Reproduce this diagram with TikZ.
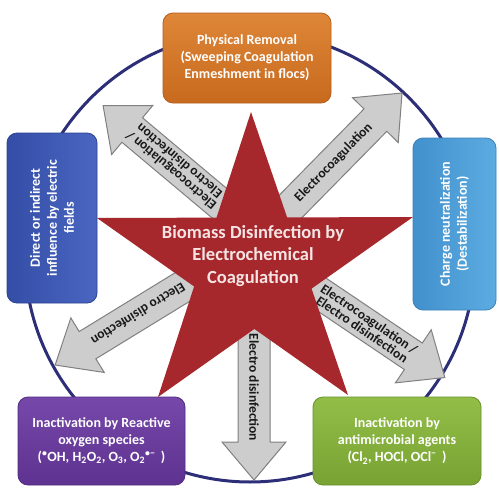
\documentclass[tikz,border=0pt]{standalone}
\usepackage{fontspec}
\setmainfont{Carlito}
\usetikzlibrary{calc}

\definecolor{ringblue}{RGB}{44,46,120}
\definecolor{starred}{RGB}{166,40,44}
\definecolor{startxt}{RGB}{246,228,228}
\definecolor{arrowfill}{RGB}{205,205,205}
\definecolor{arrowline}{RGB}{128,128,128}
\definecolor{orangeT}{RGB}{222,134,56}
\definecolor{orangeB}{RGB}{200,106,30}
\definecolor{orangeD}{RGB}{180,96,32}
\definecolor{blueT}{RGB}{74,102,194}
\definecolor{blueB}{RGB}{52,78,166}
\definecolor{blueD}{RGB}{44,66,146}
\definecolor{skyT}{RGB}{92,172,226}
\definecolor{skyB}{RGB}{66,144,204}
\definecolor{skyD}{RGB}{58,128,186}
\definecolor{purpleT}{RGB}{118,72,170}
\definecolor{purpleB}{RGB}{94,50,144}
\definecolor{purpleD}{RGB}{82,42,128}
\definecolor{greenT}{RGB}{146,190,72}
\definecolor{greenB}{RGB}{120,162,50}
\definecolor{greenD}{RGB}{104,144,42}

\tikzset{
  ring/.style={draw=ringblue, line width=3pt, circle, minimum size=450pt, inner sep=0pt},
  stararea/.style={fill=starred},
  startext/.style={text=startxt, align=center, font=\fontsize{18.5}{22.5}\selectfont\bfseries},
  arrowbody/.style={fill=arrowfill, draw=arrowline, line width=1pt, line join=miter},
  arrowtext/.style={text=black!90, align=center, inner sep=0pt, font=\fontsize{13.5}{12.5}\selectfont\bfseries},
  box/.style={rounded corners=10pt, line width=0.8pt, text=white, align=center,
    inner sep=2pt, font=\fontsize{14}{17}\selectfont\bfseries},
}

% shaft half width, head half width, head length
\newcommand\shw{16}
\newcommand\hw{32}
\newcommand\hl{38}

% block arrow: #1 name, #2 start point, #3 direction, #4 length, #5 label
\newcommand\blockarrow[5]{%
  \begin{scope}[shift={#2}, rotate=#3]
    \draw[arrowbody] (-22,-\shw) -- ({#4-\hl},-\shw) -- ({#4-\hl},-\hw) -- (#4,0)
      -- ({#4-\hl},\hw) -- ({#4-\hl},\shw) -- (-22,\shw) -- cycle;
    \coordinate (#1-tip) at (#4,0);
    \node[arrowtext, rotate=#3] (#1) at ({(#4-\hl)/2},0) {#5};
  \end{scope}}

\begin{document}
\begin{tikzpicture}[x=1pt, y=-1pt]
  \useasboundingbox (0,0) rectangle (499,488);
  \fill[white] (0,0) rectangle (499,488);

  % outer ring
  \node[ring] (ring) at (250,257) {};

  % arrows radiating from the star
  \blockarrow{aUL}{(218,202)}{140}{150}{Electrocoagulation /\\Electro disinfection}
  \blockarrow{aUR}{(292,205)}{45.5}{157}{Electrocoagulation}
  \blockarrow{aLL}{(189,283)}{211.5}{157}{Electro disinfection}
  \blockarrow{aLR}{(318,292)}{-34}{153}{Electrocoagulation /\\Electro disinfection}
  \blockarrow{aD}{(254,333)}{-90}{147}{Electro disinfection}

  % five-pointed star
  \coordinate (sT) at (251,112);
  \coordinate (sL) at (97,218);
  \coordinate (sR) at (413,217);
  \coordinate (sBL) at (158,397);
  \coordinate (sBR) at (348,395);
  \coordinate (iUR) at (intersection of sT--sBR and sL--sR);
  \coordinate (iLR) at (intersection of sR--sBL and sT--sBR);
  \coordinate (iB)  at (intersection of sBR--sL and sBL--sR);
  \coordinate (iLL) at (intersection of sBL--sT and sL--sBR);
  \coordinate (iUL) at (intersection of sL--sR and sT--sBL);
  \fill[stararea] (sT) -- (iUR) -- (sR) -- (iLR) -- (sBR) -- (iB) -- (sBL)
    -- (iLL) -- (sL) -- (iUL) -- cycle;
  \node[startext] (title) at (253,256)
    {Biomass Disinfection by\\Electrochemical\\Coagulation};

  % outcome boxes
  \node[box, draw=orangeD, top color=orangeT, bottom color=orangeB,
    minimum width=168pt, minimum height=90pt] (phys) at (247,58)
    {Physical Removal\\(Sweeping Coagulation\\Enmeshment in flocs)};
  \node[box, draw=blueD, right color=blueT, left color=blueB, rotate=90,
    minimum width=170pt, minimum height=90pt] (direct) at (52,218)
    {Direct or indirect\\influence by electric\\fields};
  \node[box, draw=skyD, right color=skyT, left color=skyB, rotate=90,
    minimum width=172pt, minimum height=83pt] (charge) at (454.5,224)
    {Charge neutralization\\(Destabilization)};
  \node[box, draw=purpleD, top color=purpleT, bottom color=purpleB,
    minimum width=167pt, minimum height=88pt] (ros) at (101.5,441)
    {Inactivation by Reactive\\oxygen species\\(\textsuperscript{•}OH, H\textsubscript{2}O\textsubscript{2}, O\textsubscript{3}, O\textsubscript{2}\textsuperscript{•−}\, )};
  \node[box, draw=greenD, top color=greenT, bottom color=greenB,
    minimum width=168pt, minimum height=88pt] (anti) at (397,441)
    {Inactivation by\\antimicrobial agents\\(Cl\textsubscript{2}, HOCl, OCl\textsuperscript{−}\, )};
\end{tikzpicture}
\end{document}
